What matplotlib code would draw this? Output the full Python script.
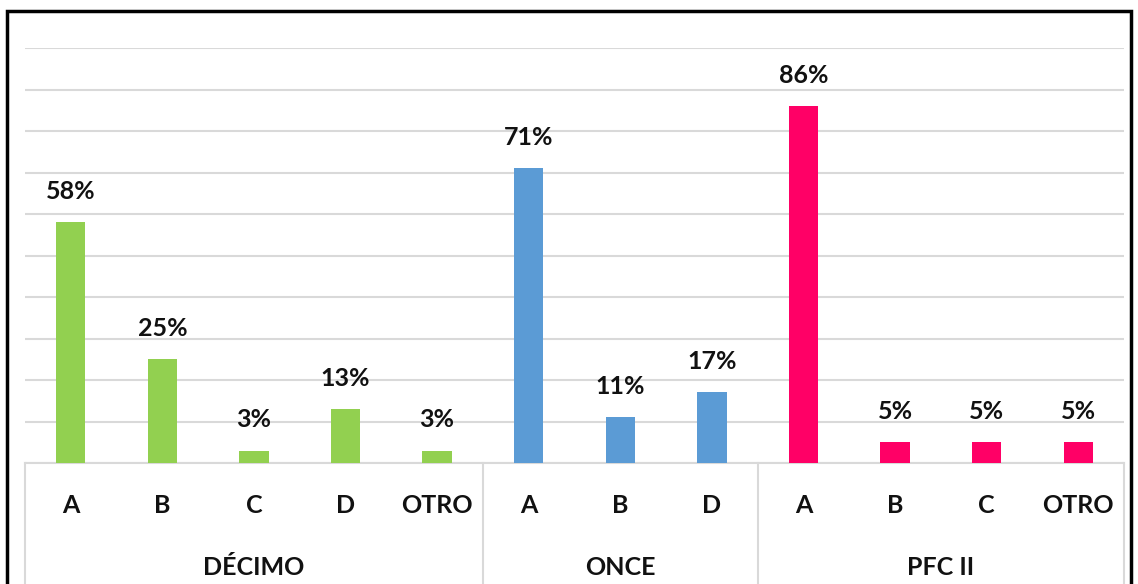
import matplotlib
matplotlib.use("Agg")
import matplotlib.pyplot as plt
from matplotlib.patches import Rectangle

groups = ["DÉCIMO", "ONCE", "PFC II"]
decimo_labels = ["A", "B", "C", "D", "OTRO"]
decimo_values = [0.58, 0.25, 0.03, 0.13, 0.03]
once_labels = ["A", "B", "D"]
once_values = [0.71, 0.11, 0.17]
pfc_labels = ["A", "B", "C", "OTRO"]
pfc_values = [0.86, 0.05, 0.05, 0.05]
colors = ["#92D050", "#5B9BD5", "#FF0066"]

plt.rcParams['font.family'] = ['Lato', 'DejaVu Sans']
FS = 18
TXT = "#111111"

fig = plt.figure(figsize=(11.38, 5.84), dpi=100)
ax = fig.add_axes([25/1138, 121/584, 1099/1138, 415/584])

series = [(decimo_labels, decimo_values), (once_labels, once_values), (pfc_labels, pfc_values)]
xs_all, labels_all = [], []
start = 0
bounds = [-0.5]
group_centers = []
for (labs, vals), col in zip(series, colors):
    xs = list(range(start, start + len(labs)))
    ax.bar(xs, vals, width=0.32, color=col, zorder=3)
    for x, v in zip(xs, vals):
        ax.annotate(f"{round(v*100)}%", (x, v), xytext=(0, 14), textcoords="offset points",
                    ha="center", va="bottom", fontsize=FS, fontweight="bold", color=TXT)
    xs_all += xs
    labels_all += labs
    group_centers.append((xs[0] + xs[-1]) / 2)
    start += len(labs)
    bounds.append(start - 0.5)

ax.set_xlim(-0.5, start - 0.5)
ax.set_ylim(0, 1.0)
ax.set_yticks([i / 10 for i in range(11)])
ax.yaxis.grid(True, color="#D9D9D9", linewidth=1.5, zorder=0)
ax.tick_params(axis="y", left=False, labelleft=False)
ax.set_xticks(xs_all)
ax.set_xticklabels(labels_all, fontsize=FS, fontweight="bold", color=TXT)
ax.tick_params(axis="x", length=0, pad=22)
for s in ["top", "right", "left"]:
    ax.spines[s].set_visible(False)
ax.spines["bottom"].set_color("#D9D9D9")
ax.spines["bottom"].set_linewidth(1.5)

trans = ax.get_xaxis_transform()
for b in bounds:
    ax.plot([b, b], [0, -0.4], transform=trans, color="#D9D9D9", linewidth=1.5, clip_on=False)
for gc, g in zip(group_centers, groups):
    ax.text(gc, -0.252, g, transform=trans, ha="center", va="center",
            fontsize=FS, fontweight="bold", color=TXT)

fig.patches.append(Rectangle((7/1138, -0.05), 1124/1138, 0.05 + (584-11)/584,
                             transform=fig.transFigure, fill=False, edgecolor="black",
                             linewidth=2.5, clip_on=False))

fig.savefig("out.png", dpi=100)
